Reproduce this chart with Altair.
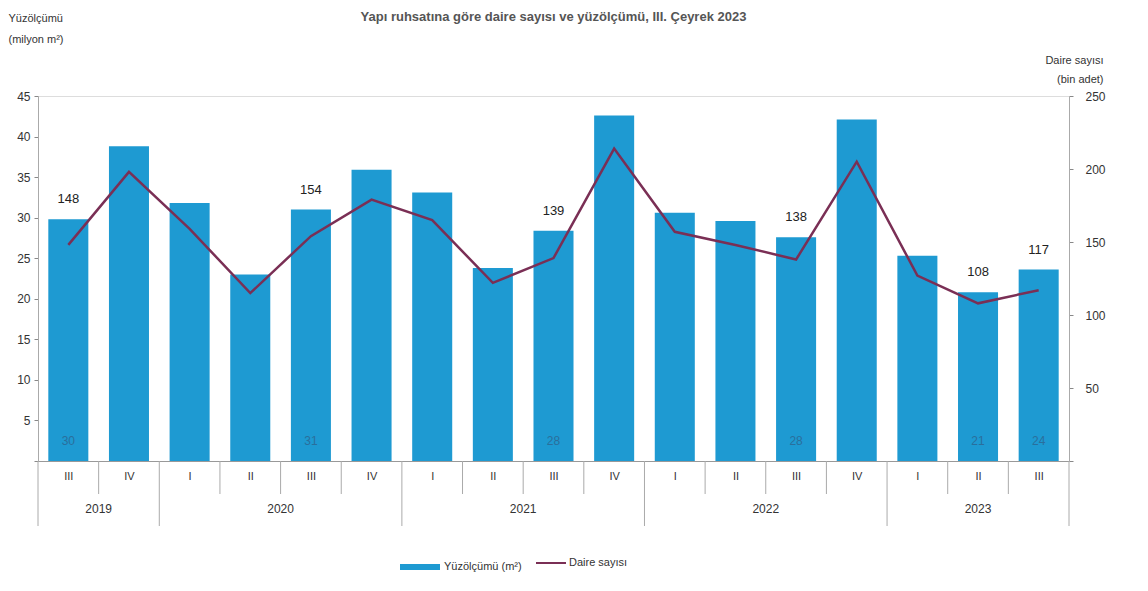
import altair as alt
import pandas as pd

# ---- data ----
quarters = ["III", "IV", "I", "II", "III", "IV", "I", "II", "III", "IV",
            "I", "II", "III", "IV", "I", "II", "III"]
years = ["2019", "2019", "2020", "2020", "2020", "2020", "2021", "2021", "2021", "2021",
         "2022", "2022", "2022", "2022", "2023", "2023", "2023"]
area_mn_m2 = [29.8, 38.8, 31.8, 23.0, 31.0, 35.9, 33.1, 23.8, 28.4, 42.6,
              30.6, 29.6, 27.6, 42.1, 25.3, 20.8, 23.6]
dwellings_k = [148, 198, 159, 115, 154, 179, 165, 122, 139, 214,
               157, 148, 138, 205, 127, 108, 117]
labelled = [True, False, False, False, True, False, False, False, True, False,
            False, False, True, False, False, True, True]

title_text = "Yapı ruhsatına göre daire sayısı ve yüzölçümü, III. Çeyrek 2023"
left_title = ["Yüzölçümü", "(milyon m²)"]
right_title = ["Daire sayısı", "(bin adet)"]
bar_series = "Yüzölçümü (m²)"
line_series = "Daire sayısı"

BAR_COLOR = "#1e9ad2"
LINE_COLOR = "#7a2f55"
FONT = "Liberation Sans"

n = len(quarters)
W, H = 1031, 365

df = pd.DataFrame({
    "idx": list(range(n)),
    "q": quarters,
    "year": years,
    "area": area_mn_m2,
    "daire": dwellings_k,
    "lab": labelled,
})

# separators between categories (long ones at year boundaries)
sep_rows = []
for i in range(-1, n):
    lft = years[i] if i >= 0 else None
    rgt = years[i + 1] if i + 1 < n else None
    sep_rows.append({"pos": i + 0.5, "long": lft != rgt})
sep_df = pd.DataFrame(sep_rows)

xscale = alt.Scale(domain=[-0.5, n - 0.5], nice=False, zero=False)
yl_scale = alt.Scale(domain=[0, 45], nice=False)
yr_scale = alt.Scale(domain=[0, 250], nice=False)
label_expr_q = "[" + ",".join("'%s'" % q for q in quarters) + "][datum.value]"

x_axis = alt.Axis(values=list(range(n)), labelExpr=label_expr_q, title=None,
                  ticks=False, grid=False, domainColor="#999999",
                  labelPadding=9, labelFontSize=11, labelColor="#333333",
                  labelFlush=False, labelOverlap=False)
yl_axis = alt.Axis(orient="left", values=list(range(0, 46, 5)),
                   labelExpr="datum.value == 0 ? '' : datum.label",
                   grid=False, tickSize=4, tickColor="#888888",
                   domainColor="#aaaaaa", labelFontSize=12, labelColor="#333333",
                   labelPadding=4,
                   title=left_title, titleAngle=0, titleAlign="left",
                   titleBaseline="top", titleX=-30, titleY=-84,
                   titleFontSize=11, titleFontWeight="normal",
                   titleColor="#333333", titleLineHeight=21)
yr_axis = alt.Axis(orient="right", values=list(range(0, 251, 50)),
                   labelExpr="datum.value == 0 ? '' : datum.label",
                   grid=False, tickSize=4, tickColor="#888888",
                   domainColor="#aaaaaa", labelFontSize=12, labelColor="#333333",
                   labelPadding=12,
                   title=right_title, titleAngle=0, titleAlign="right",
                   titleBaseline="top", titleX=34, titleY=-42,
                   titleFontSize=11, titleFontWeight="normal",
                   titleColor="#333333", titleLineHeight=19)

base = alt.Chart(df)

bars = base.transform_calculate(
    x1="datum.idx - 0.33", x2="datum.idx + 0.33", z0="0", s="'%s'" % bar_series
).mark_bar().encode(
    x=alt.X("x1:Q", scale=xscale, axis=x_axis),
    x2="x2:Q",
    y=alt.Y("area:Q", scale=yl_scale, axis=yl_axis),
    y2="z0:Q",
    color=alt.Color("s:N", scale=alt.Scale(range=[BAR_COLOR]),
                    legend=alt.Legend(title=None, orient="none", legendX=362, legendY=451,
                                      symbolType="M-1,-0.15H1V0.15H-1Z", symbolSize=1600,
                                      symbolStrokeWidth=0, labelFontSize=11,
                                      labelColor="#333333", labelOffset=4)),
)

bar_labels = base.transform_filter("datum.lab").transform_calculate(
    z="0", t="format(datum.area, '.0f')"
).mark_text(fontSize=12, color="#2a6f9c", baseline="middle", dy=-20).encode(
    x=alt.X("idx:Q", scale=xscale, axis=x_axis),
    y=alt.Y("z:Q", scale=yl_scale, axis=yl_axis),
    text="t:N",
)

short_seps = alt.Chart(sep_df).transform_filter("!datum.long").mark_rule(
    color="#aaaaaa", strokeWidth=1
).encode(
    x=alt.X("pos:Q", scale=xscale, axis=x_axis),
    y=alt.value(H), y2=alt.value(H + 33),
)

long_seps = alt.Chart(sep_df).transform_filter("datum.long").mark_rule(
    color="#aaaaaa", strokeWidth=1
).encode(
    x=alt.X("pos:Q", scale=xscale, axis=x_axis),
    y=alt.value(H), y2=alt.value(H + 65),
)

year_labels = base.transform_aggregate(
    c="mean(idx)", groupby=["year"]
).mark_text(fontSize=12, color="#333333", baseline="middle").encode(
    x=alt.X("c:Q", scale=xscale, axis=x_axis),
    y=alt.value(H + 48),
    text="year:N",
)

line = base.transform_calculate(s="'%s'" % line_series).mark_line(strokeWidth=2.5).encode(
    x=alt.X("idx:Q", scale=xscale, axis=x_axis),
    y=alt.Y("daire:Q", scale=yr_scale, axis=yr_axis),
    stroke=alt.Stroke("s:N", scale=alt.Scale(range=[LINE_COLOR]),
                      legend=alt.Legend(title=None, orient="none", legendX=497, legendY=451,
                                        symbolType="stroke", symbolSize=900,
                                        symbolStrokeWidth=2, labelFontSize=11,
                                        labelColor="#333333", labelOffset=2)),
)

line_labels = base.transform_filter("datum.lab").transform_calculate(
    ly="max(datum.area * 250 / 45, datum.daire)"
).mark_text(fontSize=13, color="#222222", baseline="middle", dy=-20).encode(
    x=alt.X("idx:Q", scale=xscale, axis=x_axis),
    y=alt.Y("ly:Q", scale=yr_scale, axis=yr_axis),
    text="daire:Q",
)

left_layer = alt.layer(bars, bar_labels, short_seps, long_seps, year_labels)
right_layer = alt.layer(line, line_labels)

chart = alt.layer(left_layer, right_layer).resolve_scale(
    y="independent", color="independent", stroke="independent"
).properties(
    width=W, height=H,
    title=alt.TitleParams(title_text, fontSize=13, fontWeight="bold", color="#555555",
                          anchor="middle", frame="group", offset=-12),
    autosize=alt.AutoSizeParams(type="none"),
    padding={"left": 30, "top": 88, "right": 70, "bottom": 118},
).configure_view(stroke=None).configure(font=FONT)

chart.save("out.html", embed_options={"renderer": "svg", "actions": False})
